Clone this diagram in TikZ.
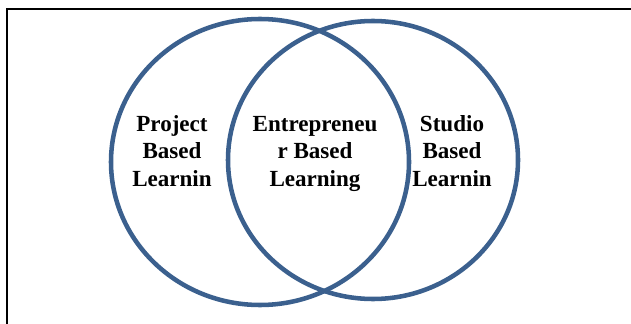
\documentclass[tikz,border=0pt]{standalone}
\usepackage{fontspec}
\setmainfont{Liberation Serif}
\usetikzlibrary{shapes.geometric,positioning}

\definecolor{vennblue}{RGB}{59,96,142}

\tikzset{
  venn/.style={ellipse,draw=vennblue,line width=3.4pt,inner sep=0pt},
  label text/.style={align=center,anchor=base,inner sep=0pt,
    font=\bfseries\fontsize{17.3}{20.3}\selectfont}
}

\begin{document}
\begin{tikzpicture}[x=0.75pt,y=-0.75pt]
   \useasboundingbox (0,0) rectangle (631,324);
   % frame
   \coordinate (fr_top) at (640,9);
   \coordinate (fr_corner) at (7,9);
   \coordinate (fr_bottom) at (7,330);
   \draw[line width=1.5pt] (fr_top) -- (fr_corner) -- (fr_bottom);
   % circles
   \node[venn,minimum width=223.5pt,minimum height=214.5pt] (c_pbl) at (260,162) {};
   \node[venn,minimum width=217.5pt,minimum height=208.5pt] (c_sbl) at (373,160) {};
   % labels (base = last line)
   \node[label text] (t_pbl) at (172,186) {Project\\Based\\Learnin};
   \node[label text] (t_ebl) at (315,186) {Entrepreneu\\r Based\\Learning};
   \node[label text] (t_sbl) at (452,186) {Studio\\Based\\Learnin};
\end{tikzpicture}
\end{document}
